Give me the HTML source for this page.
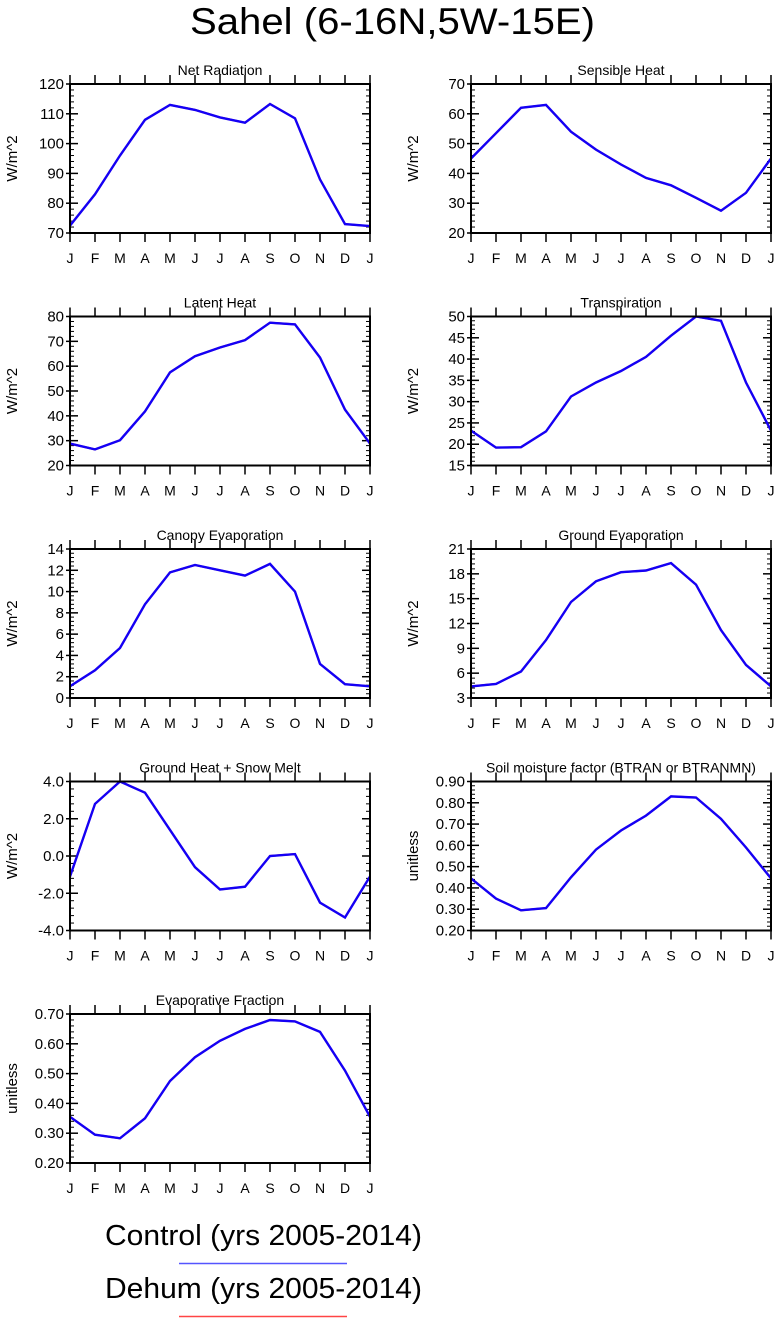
<!DOCTYPE html>
<html><head><meta charset="utf-8"><style>
html,body{margin:0;padding:0;background:#fff;}
svg{display:block;font-family:"Liberation Sans",sans-serif;}
</style></head><body>
<svg id="fig" width="780" height="1318" viewBox="0 0 780 1318" xmlns="http://www.w3.org/2000/svg">
<text x="190" y="34" font-size="37" textLength="405" lengthAdjust="spacingAndGlyphs">Sahel (6-16N,5W-15E)</text>
<g id="panels"></g>
<g>
<text x="105" y="1245" font-size="29" textLength="317" lengthAdjust="spacingAndGlyphs">Control (yrs 2005-2014)</text>
<line x1="179" y1="1263.5" x2="347" y2="1263.5" stroke="#5555ff" stroke-width="1.5"/>
<text x="105" y="1298" font-size="29" textLength="317" lengthAdjust="spacingAndGlyphs">Dehum (yrs 2005-2014)</text>
<line x1="179" y1="1316.5" x2="347" y2="1316.5" stroke="#ff4444" stroke-width="1.5"/>
</g>
</svg>
<script>
const months = ["J","F","M","A","M","J","J","A","S","O","N","D","J"];
const titles = ["Net Radiation","Sensible Heat","Latent Heat","Transpiration","Canopy Evaporation","Ground Evaporation","Ground Heat + Snow Melt","Soil moisture factor (BTRAN or BTRANMN)","Evaporative Fraction"];
const units = ["W/m^2","W/m^2","W/m^2","W/m^2","W/m^2","W/m^2","W/m^2","unitless","unitless"];
const netRad = [72.5,83,96,108,113,111.3,108.8,107,113.3,108.5,88,73,72.3];
const sensible = [45,53.5,62,63,54,48,43,38.5,36,31.8,27.5,33.5,45];
const latent = [28.8,26.5,30.2,41.8,57.5,64,67.5,70.5,77.5,76.8,63.5,42.5,28.8];
const transp = [23.2,19.2,19.3,23,31.2,34.5,37.2,40.5,45.5,50,49,34.5,23.2];
const canopy = [1.1,2.6,4.7,8.8,11.8,12.5,12,11.5,12.6,10,3.2,1.3,1.1];
const groundEvap = [4.4,4.7,6.2,10,14.6,17.1,18.2,18.4,19.3,16.7,11.2,7,4.4];
const groundHeat = [-1.1,2.8,4.0,3.4,1.4,-0.6,-1.8,-1.65,0.0,0.1,-2.5,-3.3,-1.1];
const btran = [0.445,0.35,0.295,0.305,0.45,0.58,0.67,0.74,0.83,0.825,0.725,0.59,0.445];
const evapFrac = [0.355,0.295,0.283,0.35,0.475,0.555,0.61,0.65,0.68,0.675,0.64,0.51,0.355];
const yTicks0 = ["70","80","90","100","110","120"];
const yTicks1 = ["20","30","40","50","60","70"];
const yTicks2 = ["20","30","40","50","60","70","80"];
const yTicks3 = ["15","20","25","30","35","40","45","50"];
const yTicks4 = ["0","2","4","6","8","10","12","14"];
const yTicks5 = ["3","6","9","12","15","18","21"];
const yTicks6 = ["-4.0","-2.0","0.0","2.0","4.0"];
const yTicks7 = ["0.20","0.30","0.40","0.50","0.60","0.70","0.80","0.90"];
const yTicks8 = ["0.20","0.30","0.40","0.50","0.60","0.70"];
const series = [netRad,sensible,latent,transp,canopy,groundEvap,groundHeat,btran,evapFrac];
const ticks = [yTicks0,yTicks1,yTicks2,yTicks3,yTicks4,yTicks5,yTicks6,yTicks7,yTicks8];
const names = ["net-radiation","sensible-heat","latent-heat","transpiration","canopy-evaporation","ground-evaporation","ground-heat","soil-moisture-factor","evaporative-fraction"];

const NS="http://www.w3.org/2000/svg";
function mk(tag, attrs, parent){const e=document.createElementNS(NS,tag);for(const k in attrs)e.setAttribute(k,attrs[k]);parent.appendChild(e);return e;}
const root=document.getElementById('panels');
const W=300,H=149;
for(let i=0;i<9;i++){
  const col=i%2,row=Math.floor(i/2);
  const x0=col===0?70:471, y0=84+row*232.5;
  const tv=ticks[i].map(Number), ymin=tv[0], ymax=tv[tv.length-1];
  const sx=k=>x0+k*W/12;
  const sy=v=>y0+H-(v-ymin)/(ymax-ymin)*H;
  const g=mk('g',{},root);
  
  
  const t=mk('text',{x:x0+W/2,y:y0-9,'font-size':14,'text-anchor':'middle'},g);
  t.textContent=titles[i];
  
  
  const yl=mk('text',{x:0,y:0,'font-size':15,'text-anchor':'middle',transform:`translate(${x0-53},${y0+H/2}) rotate(-90)`},g);
  yl.textContent=units[i];
  
  
  for(let k=0;k<13;k++){
    const x=sx(k);
    mk('line',{x1:x,y1:y0-9,x2:x,y2:y0,stroke:'#000','stroke-width':1.5},g);
    mk('line',{x1:x,y1:y0+H,x2:x,y2:y0+H+9,stroke:'#000','stroke-width':1.5},g);
    const ml=mk('text',{x:x,y:y0+H+30,'font-size':14,'text-anchor':'middle'},g);
    ml.textContent=months[k];
    
    
  }
  for(let j=0;j<tv.length;j++){
    const y=sy(tv[j]);
    mk('line',{x1:x0,y1:y,x2:x0+8,y2:y,stroke:'#000','stroke-width':1.5},g);
    mk('line',{x1:x0+W,y1:y,x2:x0+W-8,y2:y,stroke:'#000','stroke-width':1.5},g);
    mk('line',{x1:x0-4,y1:y,x2:x0,y2:y,stroke:'#000','stroke-width':1.5},g);
    const yt=mk('text',{x:x0-6,y:y+5,'font-size':15,'text-anchor':'end'},g);
    yt.textContent=ticks[i][j];
    
    
    if(j<tv.length-1){
      for(let m=1;m<5;m++){
        const ym=sy(tv[j]+(tv[j+1]-tv[j])*m/5);
        mk('line',{x1:x0,y1:ym,x2:x0+4,y2:ym,stroke:'#000','stroke-width':1},g);
        mk('line',{x1:x0+W,y1:ym,x2:x0+W-4,y2:ym,stroke:'#000','stroke-width':1},g);
      }
    }
  }
  const d=series[i].map((v,k)=>(k?'L':'M')+sx(k).toFixed(1)+','+sy(v).toFixed(1)).join(' ');
  const red=mk('path',{d:d,fill:'none',stroke:'#ff0000','stroke-width':2},g);
  
  
  const blue=mk('path',{d:d,fill:'none',stroke:'#1400f5','stroke-width':2.4},g);
  
  
  const box=mk('rect',{x:x0,y:y0,width:W,height:H,fill:'none',stroke:'#000','stroke-width':2},g);
  
  
}
</script>
</body></html>
